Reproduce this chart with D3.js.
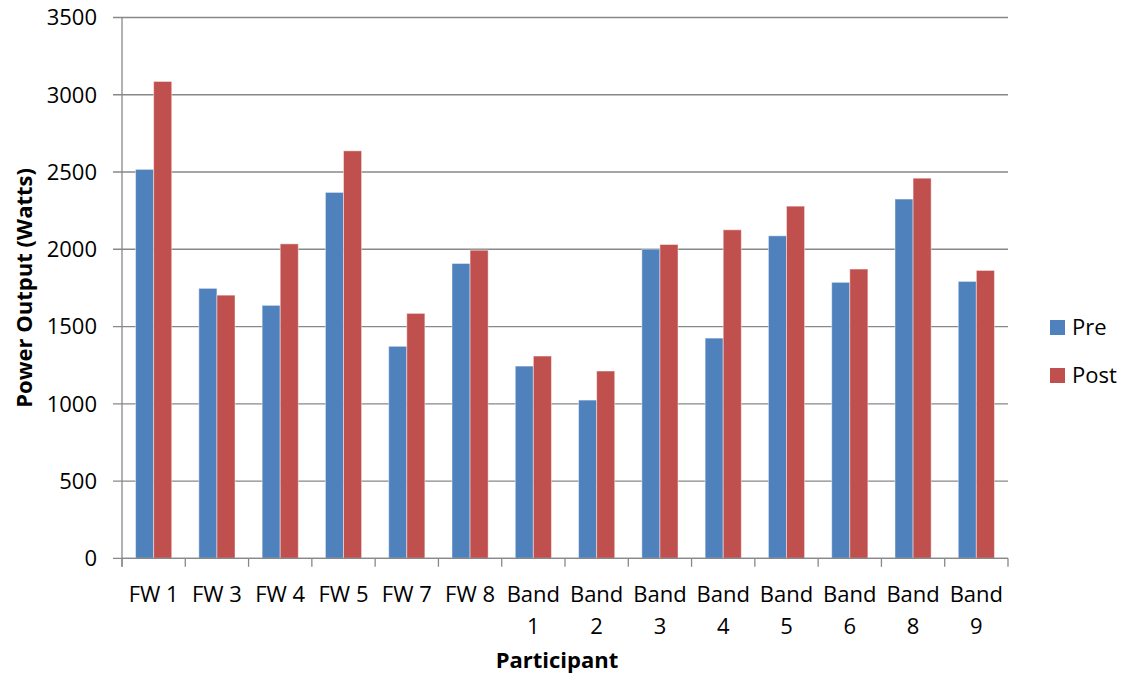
<!DOCTYPE html>
<html>
<head>
<meta charset="utf-8">
<script src="https://cdn.jsdelivr.net/npm/d3@7"></script>
<style>
  body { margin: 0; background: #fff; }
  text { font-family: "Open Sans", sans-serif; fill: #000; }
</style>
</head>
<body>
<div id="chart"></div>
<script>
// chart data
var participants = ["FW 1", "FW 3", "FW 4", "FW 5", "FW 7", "FW 8", "Band 1", "Band 2",
  "Band 3", "Band 4", "Band 5", "Band 6", "Band 8", "Band 9"];
var preValues = [2517, 1747, 1637, 2368, 1372, 1908, 1244, 1024, 2001, 1425, 2087, 1786, 2325, 1792];
var postValues = [3086, 1703, 2035, 2637, 1585, 1994, 1309, 1212, 2031, 2126, 2279, 1872, 2460, 1863];
var seriesNames = ["Pre", "Post"];
var yTicks = [0, 500, 1000, 1500, 2000, 2500, 3000, 3500];

var svgWidth = 1125;
var svgHeight = 681;

var margin = { top: 17.5, right: 117, bottom: 122.7, left: 122 };
var width = svgWidth - margin.left - margin.right;
var height = svgHeight - margin.top - margin.bottom;

var colors = ["#4F81BD", "#C0504D"];

var svg = d3.select("#chart")
  .append("svg")
  .attr("width", svgWidth)
  .attr("height", svgHeight);

var chartGroup = svg.append("g")
  .attr("transform", `translate(${margin.left}, ${margin.top})`);

var data = participants.map(function(p, i) {
  return { name: p, values: [preValues[i], postValues[i]] };
});

var xScale = d3.scaleBand()
  .domain(participants)
  .range([0, width])
  .paddingInner(0)
  .paddingOuter(0);

// two bars with a 150% gap between groups
var barW = xScale.bandwidth() / 3.5;
var xInner = d3.scaleBand()
  .domain([0, 1])
  .range([barW * 0.75, barW * 2.75]);

var yScale = d3.scaleLinear()
  .domain([0, 3500])
  .range([height, 0]);

// gridlines
chartGroup.append("g")
  .selectAll("line")
  .data(yTicks)
  .enter()
  .append("line")
  .attr("x1", -9)
  .attr("x2", width)
  .attr("y1", d => yScale(d))
  .attr("y2", d => yScale(d))
  .attr("stroke", "#888")
  .attr("stroke-width", 1.3);

// y tick labels
chartGroup.append("g")
  .selectAll("text")
  .data(yTicks)
  .enter()
  .append("text")
  .attr("x", -25)
  .attr("y", d => yScale(d))
  .attr("dy", "0.36em")
  .attr("text-anchor", "end")
  .attr("font-size", "22px")
  .text(d => d);

// bars
var groups = chartGroup.append("g")
  .selectAll("g")
  .data(data)
  .enter()
  .append("g")
  .attr("transform", d => `translate(${xScale(d.name)}, 0)`);

groups.selectAll("rect")
  .data(d => d.values)
  .enter()
  .append("rect")
  .attr("x", (d, i) => xInner(i))
  .attr("width", xInner.bandwidth())
  .attr("y", d => yScale(d))
  .attr("height", d => height - yScale(d))
  .attr("fill", (d, i) => colors[i])
  .attr("stroke", "rgba(255,255,255,0.45)")
  .attr("stroke-width", 1);

// y axis line
chartGroup.append("line")
  .attr("x1", 0).attr("x2", 0)
  .attr("y1", 0).attr("y2", height + 8.5)
  .attr("stroke", "#888")
  .attr("stroke-width", 1.3);

// x axis line and ticks
chartGroup.append("line")
  .attr("x1", 0).attr("x2", width)
  .attr("y1", height).attr("y2", height)
  .attr("stroke", "#888")
  .attr("stroke-width", 1.3);

var tickPos = participants.map(p => xScale(p)).concat([width]);
chartGroup.append("g")
  .selectAll("line")
  .data(tickPos)
  .enter()
  .append("line")
  .attr("x1", d => d).attr("x2", d => d)
  .attr("y1", height).attr("y2", height + 8.5)
  .attr("stroke", "#888")
  .attr("stroke-width", 1.3);

// x labels, wrapped when wider than the category
var xLabels = chartGroup.append("g")
  .selectAll("text")
  .data(participants)
  .enter()
  .append("text")
  .attr("x", d => xScale(d) + xScale.bandwidth() / 2)
  .attr("y", height + 43.5)
  .attr("text-anchor", "middle")
  .attr("font-size", "22px")
  .text(d => d);

xLabels.each(function(d) {
  var t = d3.select(this);
  if (d.indexOf("Band") === 0 || this.getComputedTextLength() > xScale.bandwidth()) {
    var words = d.split(" ");
    t.text(null);
    words.forEach(function(w, i) {
      t.append("tspan")
        .attr("x", xScale(d) + xScale.bandwidth() / 2)
        .attr("dy", i === 0 ? 0 : 32)
        .text(w);
    });
  }
});

// axis titles
chartGroup.append("text")
  .attr("x", width / 2 - 8)
  .attr("y", height + 110)
  .attr("text-anchor", "middle")
  .attr("font-size", "22px")
  .attr("font-weight", "bold")
  .text("Participant");

chartGroup.append("text")
  .attr("transform", "rotate(-90)")
  .attr("x", 0 - height / 2)
  .attr("y", 0 - margin.left + 32)
  .attr("text-anchor", "middle")
  .attr("font-size", "22px")
  .attr("font-weight", "bold")
  .text("Power Output (Watts)");

// legend
var legend = svg.append("g")
  .attr("transform", "translate(1050, 320)");

var legendItems = legend.selectAll("g")
  .data(seriesNames)
  .enter()
  .append("g")
  .attr("transform", (d, i) => `translate(0, ${i * 48})`);

legendItems.append("rect")
  .attr("width", 15)
  .attr("height", 15)
  .attr("fill", (d, i) => colors[i]);

legendItems.append("text")
  .attr("x", 22)
  .attr("y", 15)
  .attr("font-size", "22px")
  .text(d => d);
</script>
</body>
</html>
